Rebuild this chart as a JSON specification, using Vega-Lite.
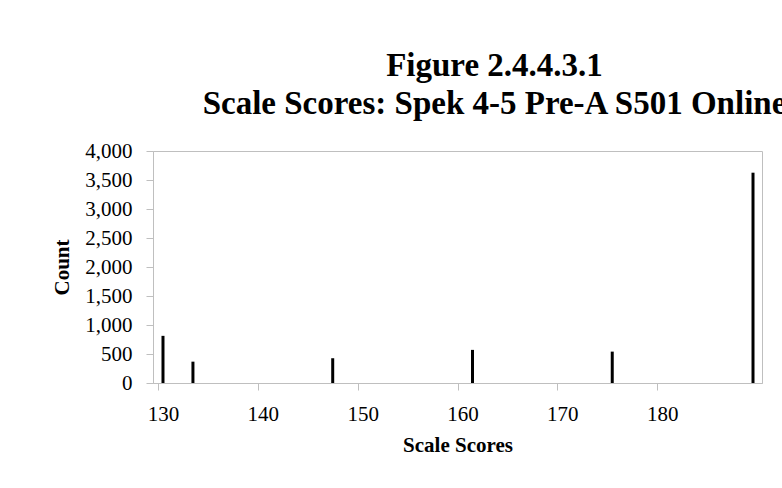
{
  "$schema": "https://vega.github.io/schema/vega-lite/v6.json",
  "autosize": {"type": "none"},
  "width": 609,
  "height": 232,
  "padding": {"left": 153, "top": 151, "right": 20, "bottom": 105},
  "background": "white",
  "title": {
    "text": ["Figure 2.4.4.3.1", "Scale Scores: Spek 4-5 Pre-A S501 Online"],
    "font": "Liberation Serif",
    "fontSize": 33,
    "fontWeight": "bold",
    "color": "black",
    "anchor": "middle",
    "dx": 37,
    "dy": 41,
    "lineHeight": 38,
    "baseline": "bottom",
    "offset": 27
  },
  "data": {
    "values": [
      {"score": 130.5, "count": 813},
      {"score": 133.5, "count": 368},
      {"score": 147.5, "count": 427},
      {"score": 161.5, "count": 571},
      {"score": 175.5, "count": 541},
      {"score": 189.6, "count": 3626}
    ]
  },
  "mark": {"type": "bar", "size": 3, "color": "black"},
  "encoding": {
    "x": {
      "field": "score",
      "type": "quantitative",
      "scale": {"domain": [130, 190], "nice": false, "zero": false},
      "axis": {
        "title": "Scale Scores",
        "values": [130, 140, 150, 160, 170, 180],
        "grid": false,
        "domainColor": "#BFBFBF",
        "tickColor": "#BFBFBF",
        "tickSize": 7,
        "labelFont": "Liberation Serif",
        "labelFontSize": 21,
        "labelColor": "black",
        "labelPadding": 13,
        "labelOffset": 5,
        "titleFont": "Liberation Serif",
        "titleFontSize": 21,
        "titleFontWeight": "bold",
        "titleColor": "black",
        "titlePadding": 10
      }
    },
    "y": {
      "field": "count",
      "type": "quantitative",
      "scale": {"domain": [0, 4000], "nice": false},
      "axis": {
        "title": "Count",
        "values": [0, 500, 1000, 1500, 2000, 2500, 3000, 3500, 4000],
        "format": ",d",
        "grid": false,
        "domainColor": "#BFBFBF",
        "tickColor": "#BFBFBF",
        "tickSize": 7,
        "labelFont": "Liberation Serif",
        "labelFontSize": 21,
        "labelColor": "black",
        "labelPadding": 14,
        "titleFont": "Liberation Serif",
        "titleFontSize": 21,
        "titleFontWeight": "bold",
        "titleColor": "black",
        "titlePadding": 12
      }
    }
  },
  "config": {
    "view": {"stroke": "#BFBFBF", "strokeWidth": 1}
  }
}
